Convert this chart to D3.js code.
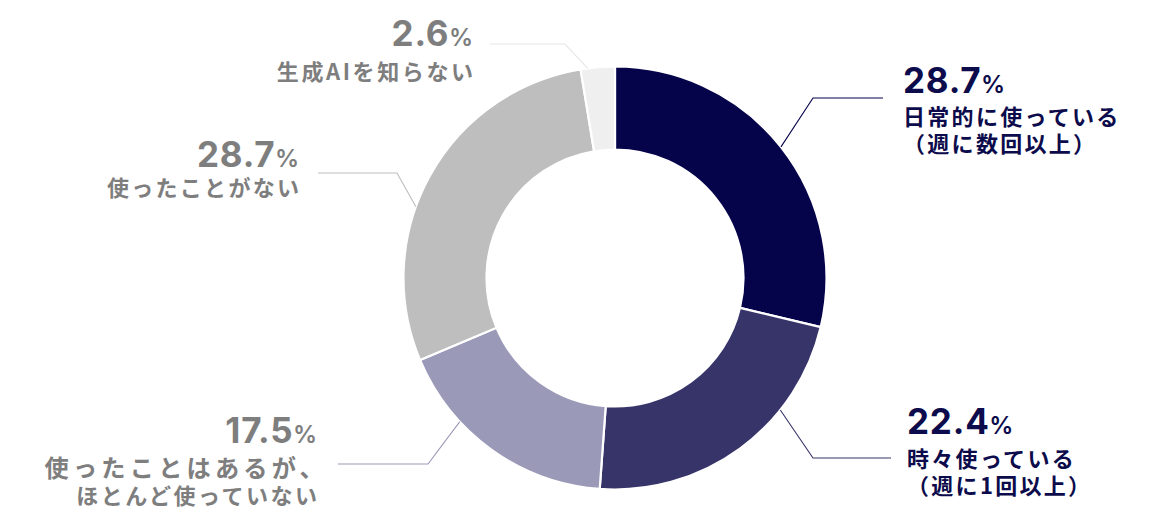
<!DOCTYPE html>
<html>
<head>
<meta charset="utf-8">
<script src="https://cdn.jsdelivr.net/npm/d3@7/dist/d3.min.js"></script>
<style>
  html, body { margin: 0; padding: 0; background: #ffffff; }
  svg { display: block; }
</style>
</head>
<body>
<svg id="chart" width="1176" height="532"></svg>
<script>
// ---- data ----
const categories = ["日常的に使っている（週に数回以上）", "時々使っている（週に1回以上）", "使ったことはあるが、ほとんど使っていない", "使ったことがない", "生成AIを知らない"];
const values = [28.7, 22.4, 17.5, 28.7, 2.6];
const valueLabels = ["28.7", "22.4", "17.5", "28.7", "2.6"];
const labelLines = [
  ["日常的に使っている", "（週に数回以上）"],
  ["時々使っている", "（週に1回以上）"],
  ["使ったことはあるが、", "ほとんど使っていない"],
  ["使ったことがない"],
  ["生成AIを知らない"]
];

// ---- style / layout ----
const colors = ["#05034a", "#37346a", "#9a99b8", "#bebebe", "#efefef"];
const textColors = ["#0c0b4b", "#0c0b4b", "#7e7e7e", "#7e7e7e", "#7e7e7e"];
const cx = 615, cy = 278, rOuter = 211.5, rInner = 128.5;
// leader: angle (deg, from top clockwise) on the outer edge, elbow point, horizontal end
const leaderAngle = [51.7, 128.6, 227.2, 289.7, 352.6];
const leaderElbow = [[813, 98], [813, 458], [428, 464], [397, 173], [565, 44]];
const leaderEndX = [883, 891, 338, 318, 490];
const labelX = [903, 907, 317, 299, 473];
const labelAnchor = ["start", "start", "end", "end", "end"];
const numBaseline = [93, 434, 443, 167, 46];
const lineBaselines = [[125, 152], [467, 494], [477, 504], [196], [80]];
const lineFontSize = [[22, 22], [22, 22], [24.2, 22], [22], [22]];
const lineSpacing = [[2.3, 2.3], [2.3, 2.3], [4.2, 2.5], [2.3], [2.6]];
const lineShiftX = [[0, 0], [0, 0], [11, 2.5], [2.3], [2.6]];

const svg = d3.select("#chart");
const g = svg.append("g").attr("transform", `translate(${cx},${cy})`);

const pie = d3.pie().sort(null).value(d => d).startAngle(0).endAngle(2 * Math.PI);
const arc = d3.arc().innerRadius(rInner).outerRadius(rOuter);

g.selectAll("path.slice")
  .data(pie(values))
  .join("path")
  .attr("class", "slice")
  .attr("d", arc)
  .attr("fill", (d, i) => colors[i])
  .attr("stroke", "#ffffff")
  .attr("stroke-width", 2.2)
  .attr("stroke-linejoin", "miter");

// leader lines
const lineGen = d3.line();
values.forEach((v, i) => {
  const a = leaderAngle[i] * Math.PI / 180;
  const sx = cx + rOuter * Math.sin(a);
  const sy = cy - rOuter * Math.cos(a);
  const [ex, ey] = leaderElbow[i];
  svg.append("path")
    .attr("d", lineGen([[sx, sy], [ex, ey], [leaderEndX[i], ey]]))
    .attr("fill", "none")
    .attr("stroke", i === 4 ? "#e6e6e6" : colors[i])
    .attr("stroke-width", 1.1);
});

// labels
values.forEach((v, i) => {
  const t = svg.append("text")
    .attr("x", labelX[i])
    .attr("y", numBaseline[i])
    .attr("text-anchor", labelAnchor[i])
    .attr("fill", textColors[i])
    .attr("font-weight", 700);
  t.append("tspan")
    .attr("font-family", "Inter, 'Noto Sans', sans-serif")
    .attr("font-size", 35)
    .attr("letter-spacing", "0.8px")
    .text(valueLabels[i]);
  t.append("tspan")
    .attr("font-family", "Inter, 'Noto Sans', sans-serif")
    .attr("font-size", 24)
    .attr("font-weight", 600)
    .attr("dx", -0.5)
    .text("%");

  labelLines[i].forEach((line, j) => {
    svg.append("text")
      .attr("x", labelX[i] + lineShiftX[i][j])
      .attr("y", lineBaselines[i][j])
      .attr("text-anchor", labelAnchor[i])
      .attr("fill", textColors[i])
      .attr("font-family", "'Noto Sans CJK JP', 'Noto Sans', sans-serif")
      .attr("font-weight", 700)
      .attr("font-size", lineFontSize[i][j])
      .attr("letter-spacing", lineSpacing[i][j] + "px")
      .text(line);
  });
});
</script>
</body>
</html>
